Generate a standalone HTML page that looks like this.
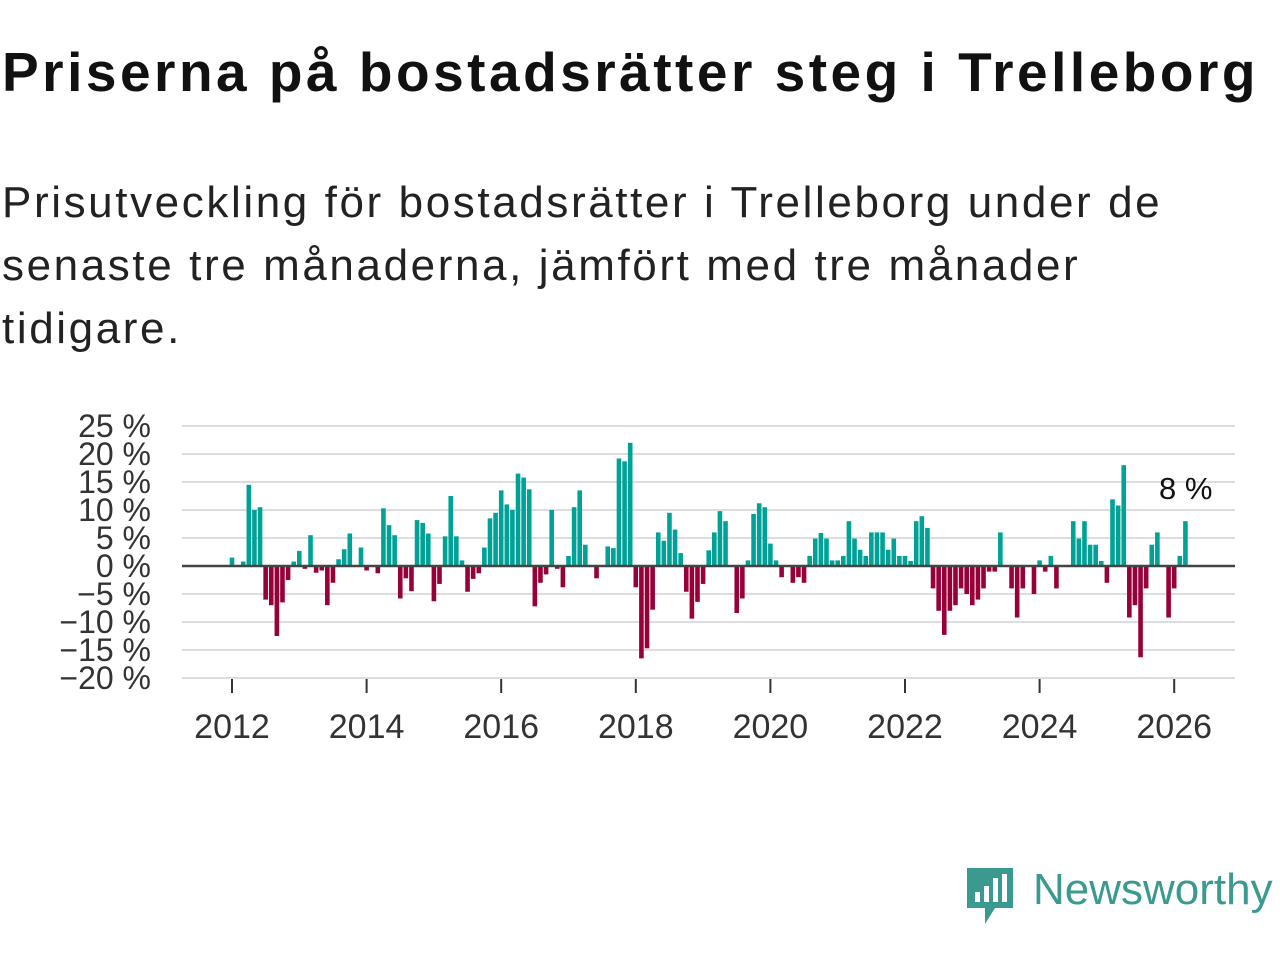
<!DOCTYPE html>
<html><head><meta charset="utf-8"><style>
body{margin:0;width:1280px;height:960px;background:#fff;font-family:"Liberation Sans","DejaVu Sans",sans-serif;color:#111;overflow:hidden;position:relative}
h1{position:absolute;left:2px;top:40px;margin:0;font-size:55px;font-weight:bold;letter-spacing:3.5px;white-space:nowrap}
p{position:absolute;left:2px;top:171px;margin:0;font-size:44px;line-height:63px;letter-spacing:2.6px;white-space:nowrap;color:#222}
svg{position:absolute;left:0;top:0}
</style></head><body>
<h1>Priserna på bostadsrätter steg i Trelleborg</h1>
<p>Prisutveckling för bostadsrätter i Trelleborg under de<br>senaste tre månaderna, jämfört med tre månader<br>tidigare.</p>
<svg id="c" width="1280" height="960"></svg>
<div style="position:absolute;left:965px;top:866px;display:flex;align-items:center">
<svg width="50" height="60" style="position:static"><path d="M2 2h46v40H30l-10 16v-16H2z" fill="#3a9a8f"/><rect x="10" y="26" width="5" height="10" fill="#fff"/><rect x="19" y="20" width="5" height="16" fill="#fff"/><rect x="28" y="12" width="5" height="24" fill="#fff"/><rect x="37" y="8" width="5" height="28" fill="#fff"/></svg>
<span style="font-size:44px;color:#3a9a8f;margin-left:18px;margin-top:-12px">Newsworthy</span></div>
<script>
const values=[1.5,0,0.8,14.5,10,10.5,-6,-7,-12.5,-6.5,-2.5,0.8,2.7,-0.5,5.5,-1.2,-0.8,-7,-3,1.2,3,5.8,0,3.3,-0.8,0,-1.3,10.3,7.3,5.5,-5.8,-2.2,-4.5,8.2,7.7,5.8,-6.3,-3.2,5.3,12.5,5.3,1,-4.6,-2.3,-1.3,3.3,8.5,9.5,13.5,11,10,16.5,15.8,13.7,
-7.2,-3,-1.5,10,-0.5,-3.8,1.8,10.5,13.5,3.8,0,-2.2,0,3.5,3.2,19.2,18.7,22,-3.8,-16.5,-14.7,-7.8,6,4.5,9.5,6.5,2.3,-4.6,-9.4,-6.4,-3.2,2.8,6,9.8,8,0,-8.4,-5.8,1,9.3,11.2,10.5,4,1,
-2,0,-3,-2,-3,1.8,4.9,5.9,4.9,1,1,1.8,8,4.9,2.9,1.8,6,6,6,2.9,4.9,1.8,1.8,0.9,8,8.9,6.8,
-4,-8,-12.3,-8,-7,-4,-5,-7,-6,-4,-1,-1,6,0,-4,-9.2,-4,0,-5,1,-1,1.8,-4,0,0,8,4.9,8,3.8,3.8,0.9,-3,11.9,10.8,18,-9.2,-7,-16.3,-4,3.8,6,0,-9.2,-4,1.8,8];
const yTicks=[25,20,15,10,5,0,-5,-10,-15,-20];
const xYears=[2012,2014,2016,2018,2020,2022,2024,2026];
const NS="http://www.w3.org/2000/svg",svg=document.getElementById('c');
const y=v=>566-v*5.6, x=i=>232+i*(67.3/12);
function mk(t,a){const e=document.createElementNS(NS,t);for(const k in a)e.setAttribute(k,a[k]);svg.appendChild(e);return e;}
yTicks.forEach(t=>{
 const l=mk('line',{x1:182,x2:1235,y1:y(t),y2:y(t),stroke:'#ddd','stroke-width':2});
 
 
 const tx=mk('text',{x:151,y:y(t)+11,'text-anchor':'end','font-size':32,fill:'#333'});
 tx.textContent=(t<0?'−'+(-t):t)+' %';
 
 
});
values.forEach((v,i)=>{
 const r=mk('rect',{x:x(i)-2.3,width:4.6,y:Math.min(y(v),566),height:Math.abs(v*5.6),fill:v>=0?'#00a297':'#970038'});
 
 
});
const z=mk('line',{x1:182,x2:1235,y1:566,y2:566,stroke:'#444','stroke-width':2.5});


xYears.forEach(yr=>{
 const px=x((yr-2012)*12);
 const tk=mk('line',{x1:px,x2:px,y1:679,y2:693,stroke:'#333','stroke-width':2});
 
 
 const tx=mk('text',{x:px,y:738,'text-anchor':'middle','font-size':34,fill:'#333'});
 tx.textContent=yr;
 
 
});
const last=values[values.length-1];
const lb=mk('text',{x:x(values.length-1)+27,y:y(last)-22,'text-anchor':'end','font-size':31,fill:'#111'});
lb.textContent=Math.round(last)+' %';


</script>
</body></html>
